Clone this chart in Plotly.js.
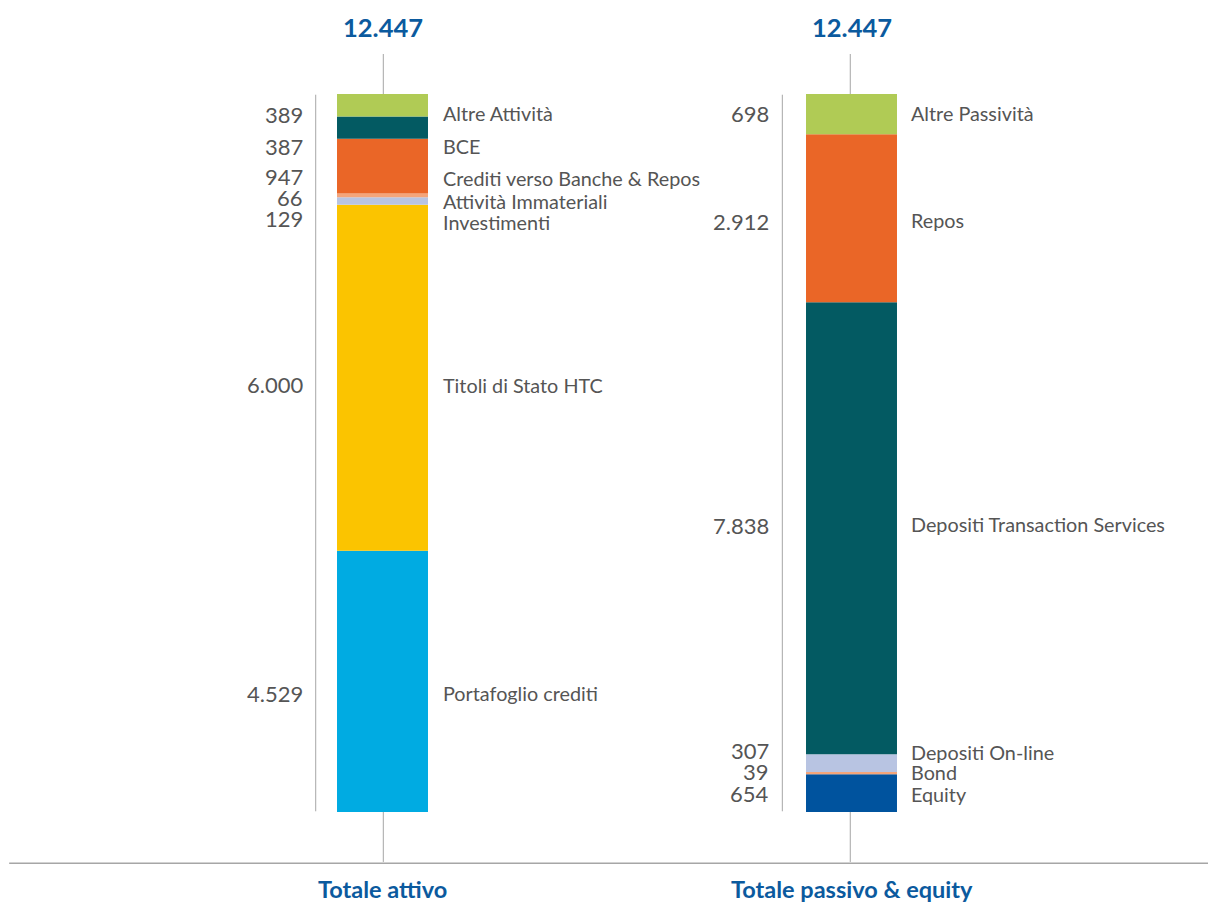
<!DOCTYPE html>
<html>
<head>
<meta charset="utf-8">
<script src="https://cdn.plot.ly/plotly-3.0.1.min.js"></script>
<style>html,body{margin:0;padding:0;background:#fff}#chart{width:1208px;height:902px}</style>
</head>
<body>
<div id="chart"></div>
<script>
// ---- DATA (bottom of stack first) ----
const categories = ["Totale attivo", "Totale passivo & equity"];
const totals = [12447, 12447];

const assetNames  = ["Portafoglio crediti", "Titoli di Stato HTC", "Investimenti", "Attività Immateriali", "Crediti verso Banche & Repos", "BCE", "Altre Attività"];
const assetValues = [4529, 6000, 129, 66, 947, 387, 389];

const liabNames  = ["Equity", "Bond", "Depositi On-line", "Depositi Transaction Services", "Repos", "Altre Passività"];
const liabValues = [654, 39, 307, 7838, 2912, 698];

// ---- STYLE ----
const assetColors = ["#00abe2", "#fbc400", "#b8c4e2", "#f4a57a", "#ea6627", "#035a62", "#b0cb55"];
const liabColors  = ["#00539e", "#f4a57a", "#b8c4e2", "#035a62", "#ea6627", "#b0cb55"];
// label nudges in px (positive = up), value label / name label
const assetValNudge  = [-12.6, -6.3, -17.6, -2.2, -10.4, -18.9, -9.3];
const assetNameNudge = [-11.6, -6.8, -21.1, -5.7, -11.9, -17.9, -7.8];
const liabValNudge   = [-0.4, 2.1, 12.2, 3.2, -3.3, 0.6];
const liabNameNudge  = [-0.4, 1.6, 10.7, 4.2, -1.8, 1.1];

const FONT = "Lato, 'Open Sans', sans-serif";
const GREY = "#555555";
const BLUE = "#0b5a9e";
const LINE = "#a6a6a6";
const BARW = 0.194;
const VAL_OFF = [-0.1646, -0.171], NAME_OFF = [0.1247, 0.122];
const RULE_OFF = [-0.1424, -0.1475];

function fmt(n){ return String(n).replace(/\B(?=(\d{3})+(?!\d))/g, "."); }

const traces = [];
const annotations = [];

function addStack(xpos, names, values, colors, valNudge, nameNudge){
  let base = 0;
  names.forEach((nm, i) => {
    traces.push({
      type: "bar", x: [xpos], y: [values[i]], base: [base], width: BARW,
      marker: {color: colors[i], line: {width: 0}}, name: nm,
      hoverinfo: "skip", showlegend: false
    });
    const mid = base + values[i] / 2;
    annotations.push({
      x: xpos + VAL_OFF[xpos], y: mid, xref: "x", yref: "y", xanchor: "right", yanchor: "middle",
      text: fmt(values[i]), showarrow: false, yshift: valNudge[i],
      font: {family: FONT, size: 22, color: GREY}
    });
    annotations.push({
      x: xpos + NAME_OFF[xpos], y: mid, xref: "x", yref: "y", xanchor: "left", yanchor: "middle",
      text: nm, showarrow: false, yshift: nameNudge[i],
      font: {family: FONT, size: 19.8, color: GREY}
    });
    base += values[i];
  });
  return base;
}

const stackA = addStack(0, assetNames, assetValues, assetColors, assetValNudge, assetNameNudge);
const stackL = addStack(1, liabNames, liabValues, liabColors, liabValNudge, liabNameNudge);
const ymax = Math.max(stackA, stackL);

totals.forEach((t, i) => {
  annotations.push({
    x: i, y: 1.0933, xref: "x", yref: "paper", xanchor: "center", yanchor: "middle",
    text: "<b>" + fmt(t) + "</b>", showarrow: false,
    font: {family: FONT, size: 25.5, color: BLUE}
  });
  annotations.push({
    x: i, y: -0.107, xref: "x", yref: "paper", xanchor: "center", yanchor: "middle",
    text: "<b>" + categories[i] + "</b>", showarrow: false,
    font: {family: FONT, size: 23.5, color: BLUE}
  });
});

const shapes = [];
[0, 1].forEach(i => {
  const tx = i + (i === 0 ? 0.0017 : -0.0026);
  shapes.push({type: "line", xref: "x", yref: "paper", x0: tx, x1: tx, y0: 1, y1: 1.0557, line: {color: LINE, width: 1}});
  shapes.push({type: "line", xref: "x", yref: "paper", x0: tx, x1: tx, y0: 0, y1: -0.0696, line: {color: LINE, width: 1}});
  const vx = i + RULE_OFF[i];
  shapes.push({type: "line", xref: "x", yref: "paper", x0: vx, x1: vx, y0: 0.001, y1: 0.999, line: {color: LINE, width: 1}});
});
shapes.push({type: "line", xref: "paper", yref: "paper", x0: -0.148, x1: 1.14, y0: -0.0714, y1: -0.0714, line: {color: LINE, width: 1.5}});

const layout = {
  width: 1208, height: 902,
  margin: {l: 148, r: 122, t: 94, b: 90},
  paper_bgcolor: "#ffffff", plot_bgcolor: "#ffffff",
  barmode: "overlay",
  showlegend: false,
  xaxis: {range: [-0.5, 1.5], showgrid: false, zeroline: false, showticklabels: false, showline: false, ticks: "", fixedrange: true},
  yaxis: {range: [0, ymax], showgrid: false, zeroline: false, showticklabels: false, showline: false, ticks: "", fixedrange: true},
  annotations: annotations,
  shapes: shapes,
  font: {family: FONT, color: GREY}
};

Plotly.newPlot("chart", traces, layout, {displayModeBar: false, staticPlot: true});
</script>
</body>
</html>
